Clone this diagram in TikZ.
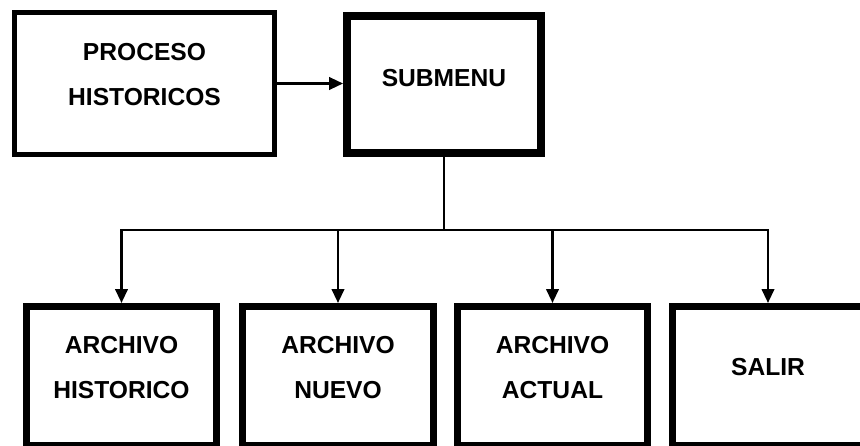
\documentclass[tikz,border=0pt]{standalone}
\usepackage{fontspec}
\setmainfont{Liberation Sans}
\usepackage{tikz}
\usetikzlibrary{arrows.meta, positioning}

\begin{document}
\begin{tikzpicture}[
    x=0.02cm, y=-0.02cm,
    % Define styles for consistency
    prog_box/.style={draw, line width=4pt, align=center, inner sep=0pt,
        font=\fontsize{14}{25.5}\selectfont\bfseries},
    main_box/.style={prog_box, line width=2.8pt, minimum width=5.2cm, minimum height=2.84cm,
        text depth=10pt},
    menu_box/.style={prog_box, line width=4.5pt, minimum width=3.88cm, minimum height=2.74cm,
        text depth=7pt},
    opt_box/.style={prog_box, minimum width=3.82cm, minimum height=2.79cm, text depth=10pt},
    call_arrow/.style={-{Triangle[length=0.28cm, width=0.25cm]}, line width=1.4pt}
]
    \useasboundingbox (0,0) rectangle (860,446);

    % ---------------------------------------------------------
    % 1. Top row: process and its submenu
    % ---------------------------------------------------------
    \node[main_box] (proc) at (144.5, 83.5) {PROCESO\\HISTORICOS};
    \node[menu_box] (sub) at (444, 84.5) {SUBMENU};

    \draw[call_arrow] (proc.east) -- (proc.east -| sub.west);

    % ---------------------------------------------------------
    % 2. Bottom row: the menu options (cut by the page at bottom and right)
    % ---------------------------------------------------------
    \node[opt_box] (hist)   at (121.5, 376.25) {ARCHIVO\\HISTORICO};
    \node[opt_box] (nuevo)  at (338, 376.25)   {ARCHIVO\\NUEVO};
    \node[opt_box] (actual) at (552.5, 376.25) {ARCHIVO\\ACTUAL};
    \node[opt_box, text depth=11pt] (salir) at (768, 376.25) {SALIR};

    % ---------------------------------------------------------
    % 3. Connectors from the submenu
    % ---------------------------------------------------------
    \coordinate (bus) at (446, 230);
    \foreach \opt in {hist, nuevo, actual, salir} {
        \draw[call_arrow] (bus -| sub.south) -- (bus) -| (\opt.north);
    }
    \draw[line width=1.4pt] (sub.south) -- (bus -| sub.south);
\end{tikzpicture}
\end{document}
